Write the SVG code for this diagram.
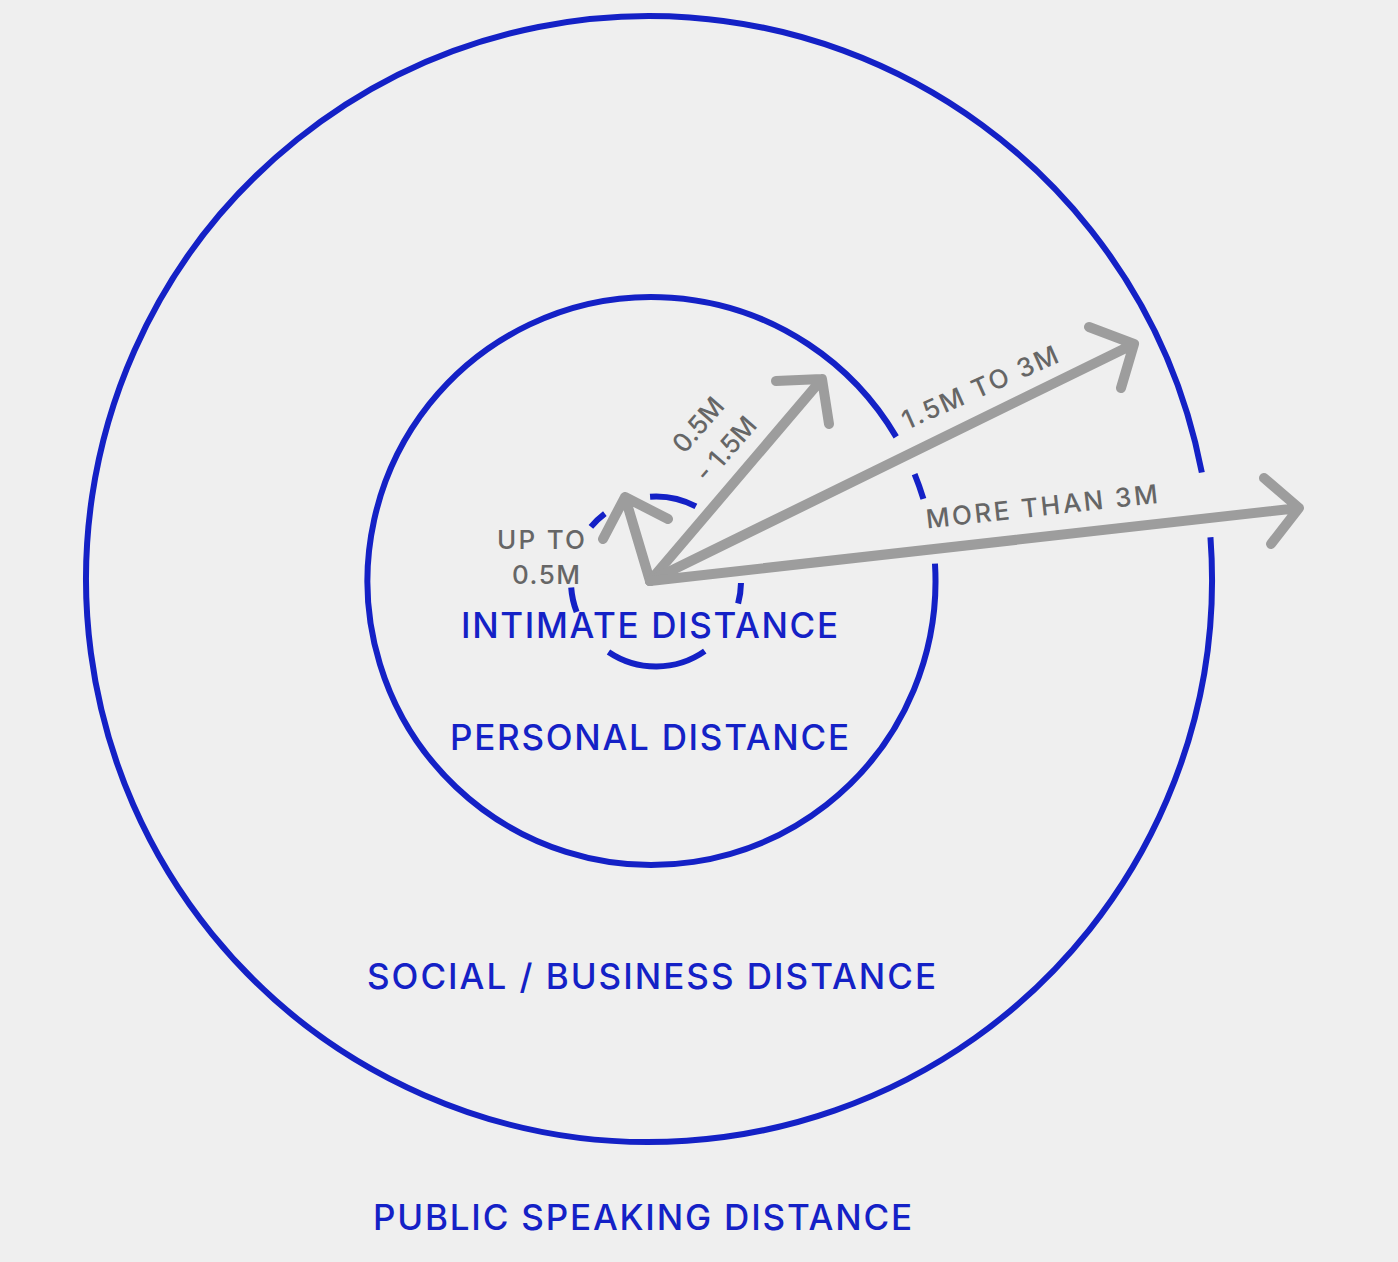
<svg xmlns="http://www.w3.org/2000/svg" width="1398" height="1262" viewBox="0 0 1398 1262">
  <style>
    .ring { fill: none; stroke: #1421c6; stroke-width: 6; }
    .arrow { fill: none; stroke: #9d9d9d; stroke-width: 10; stroke-linecap: round; stroke-linejoin: round; }
    .zone { font-family: Inter, "Open Sans", sans-serif; font-size: 35px; fill: #1421c6; text-anchor: middle; font-weight: 500; }
    .dist { font-family: Inter, "Open Sans", sans-serif; font-size: 26px; fill: #666666; text-anchor: middle; font-weight: 500; }
  </style>
  <rect width="1398" height="1262" fill="#efefef"/>

  <g id="public-zone">
    <path class="ring" d="M1210.45,537.28 A563,563 0 1 1 1201.84,472.54"/>
    <text class="zone" x="642.5" y="1230" textLength="539" lengthAdjust="spacing">PUBLIC SPEAKING DISTANCE</text>
  </g>
  <g id="social-zone">
    <path class="ring" d="M934.97,563.66 A284,284 0 1 1 896.2,436.87 M914.6,474.16 A284,284 0 0 1 923.4,498.9"/>
    <text class="zone" x="651.5" y="989" textLength="569" lengthAdjust="spacing">SOCIAL / BUSINESS DISTANCE</text>
  </g>
  <g id="personal-zone">
    <text class="zone" x="649.5" y="750" textLength="399" lengthAdjust="spacing">PERSONAL DISTANCE</text>
  </g>
  <g id="intimate-zone">
    <path class="ring" d="M650.07,496.7 A85,85 0 0 1 695.9,506.45 M590.9,526.86 A85,85 0 0 1 604.85,513.62 M576.65,611.96 A85,85 0 0 1 571.2,587.43 M740.99,582.98 A85,85 0 0 1 738.1,603.5 M704.76,651.13 A85,85 0 0 1 608.47,651.97"/>
    <text class="zone" x="649.5" y="638" textLength="377" lengthAdjust="spacing">INTIMATE DISTANCE</text>
  </g>

  <g id="connectors">
    <g id="arrow-intimate">
      <path class="arrow" d="M650,581 L625,497 M603,539 L625,497 L668,519"/>
      <text class="dist" x="541" y="549" textLength="88" lengthAdjust="spacing">UP TO</text>
      <text class="dist" x="546" y="584" textLength="68" lengthAdjust="spacing">0.5M</text>
    </g>
    <g id="arrow-personal">
      <path class="arrow" d="M650,581 L822,379 M776,381 L822,379 L829,424"/>
      <text class="dist" transform="translate(698.3,425) rotate(-49)" y="9"><tspan x="0">0.5M</tspan><tspan x="0" dy="37">- 1.5M</tspan></text>
    </g>
    <g id="arrow-social">
      <path class="arrow" d="M650,581 L1134,344 M1089,327 L1134,344 L1121,388"/>
      <text class="dist" transform="translate(980,387.5) rotate(-24)" y="9" textLength="168" lengthAdjust="spacing">1.5M TO 3M</text>
    </g>
    <g id="arrow-public">
      <path class="arrow" d="M650,581 L1299,508 M1264,478 L1299,508 L1271,544"/>
      <text class="dist" transform="translate(1041.7,506.7) rotate(-6.3)" y="9" textLength="233" lengthAdjust="spacing">MORE THAN 3M</text>
    </g>
  </g>
</svg>
